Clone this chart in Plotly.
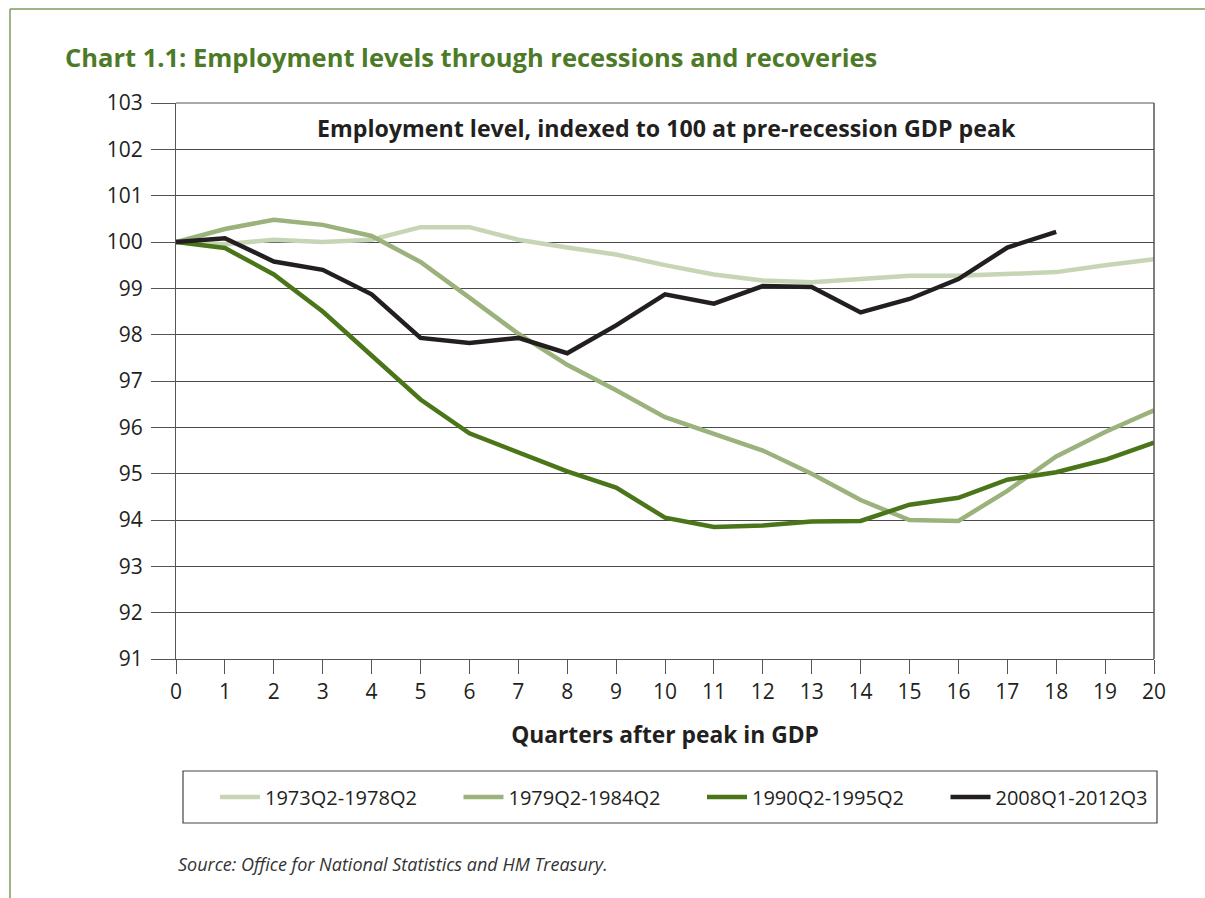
import plotly.graph_objects as go

quarters = list(range(0, 21))
x_tick_labels = [str(q) for q in quarters]
y_ticks = list(range(91, 104))

s1973_name = "1973Q2-1978Q2"
s1973 = [100.0, 99.95, 100.05, 100.0, 100.05, 100.32, 100.32, 100.05, 99.88, 99.73,
         99.5, 99.3, 99.17, 99.13, 99.2, 99.27, 99.27, 99.3, 99.35, 99.5, 99.63]

s1979_name = "1979Q2-1984Q2"
s1979 = [100.0, 100.28, 100.48, 100.37, 100.13, 99.57, 98.8, 98.02, 97.35, 96.8,
         96.22, 95.87, 95.5, 95.0, 94.43, 94.0, 93.98, 94.63, 95.37, 95.9, 96.37]

s1990_name = "1990Q2-1995Q2"
s1990 = [100.0, 99.87, 99.3, 98.5, 97.55, 96.6, 95.87, 95.45, 95.05, 94.7,
         94.05, 93.85, 93.88, 93.97, 93.98, 94.33, 94.48, 94.87, 95.03, 95.3, 95.67]

s2008_name = "2008Q1-2012Q3"
s2008 = [100.0, 100.08, 99.58, 99.4, 98.87, 97.93, 97.82, 97.93, 97.6, 98.2,
         98.87, 98.67, 99.05, 99.03, 98.48, 98.77, 99.2, 99.88, 100.22]

colors = ["#c6d5b6", "#9bb27c", "#4b7519", "#231f20"]

W, H = 1205, 898
L, R, T, B = 176, 1154, 103, 659

fig = go.Figure()
for name, vals, c in [(s1973_name, s1973, colors[0]), (s1979_name, s1979, colors[1]),
                      (s1990_name, s1990, colors[2]), (s2008_name, s2008, colors[3])]:
    fig.add_trace(go.Scatter(x=quarters[:len(vals)], y=vals, mode="lines", name=name,
                             line=dict(color=c, width=4.5), hoverinfo="skip"))

font_family = "Open Sans, Noto Sans, DejaVu Sans, sans-serif"

def px_x(px):
    return (px - L) / (R - L)

def px_y(py):
    return (B - py) / (B - T)

fig.update_layout(
    width=W, height=H,
    margin=dict(l=L, r=W - R, t=T, b=H - B),
    paper_bgcolor="white", plot_bgcolor="white",
    font=dict(family=font_family, color="#231f20", size=21),
    showlegend=True,
    legend=dict(orientation="h", x=px_x(215), xanchor="left", y=px_y(797), yanchor="middle",
                font=dict(size=20, color="#231f20"), bgcolor="rgba(0,0,0,0)",
                itemwidth=40, tracegroupgap=0, entrywidth=188.5, entrywidthmode="pixels"),
    xaxis=dict(range=[0, 20], tickmode="array", tickvals=quarters, ticktext=x_tick_labels,
               showgrid=False, zeroline=False, showline=True, linecolor="#555", linewidth=1.2,
               ticks="outside", ticklen=14, tickcolor="#555", tickwidth=1.2,
               tickfont=dict(size=21), mirror=False,
               title=dict(text="<b>Quarters after peak in GDP</b>", font=dict(size=22.8), standoff=22)),
    yaxis=dict(range=[91, 103], tickmode="array", tickvals=y_ticks,
               showgrid=True, gridcolor="#4a4a4a", gridwidth=1,
               zeroline=False, showline=True, linecolor="#555", linewidth=1.2,
               ticks="outside", ticklen=24, tickcolor="#555", tickwidth=1.2,
               tickfont=dict(size=21), ticklabelstandoff=4),
)

shapes = [
    dict(type="line", xref="paper", yref="paper", x0=0, x1=1, y0=1, y1=1,
         line=dict(color="#555", width=1.2)),
    dict(type="line", xref="paper", yref="paper", x0=1, x1=1, y0=0, y1=1,
         line=dict(color="#555", width=1.5)),
    dict(type="line", xref="paper", yref="paper",
         x0=px_x(10), x1=px_x(W), y0=px_y(9), y1=px_y(9),
         line=dict(color="#7d9c5c", width=1.5)),
    dict(type="line", xref="paper", yref="paper",
         x0=px_x(10), x1=px_x(10), y0=px_y(9), y1=px_y(H),
         line=dict(color="#7d9c5c", width=1.5)),
    dict(type="rect", xref="paper", yref="paper",
         x0=px_x(183), x1=px_x(1157), y0=px_y(823), y1=px_y(771),
         line=dict(color="#444", width=1.2), fillcolor="rgba(0,0,0,0)"),
]
fig.update_layout(shapes=shapes)

fig.add_annotation(text="<b>Chart 1.1: Employment levels through recessions and recoveries</b>",
                   xref="paper", yref="paper", x=px_x(63), y=px_y(57),
                   xanchor="left", yanchor="middle", showarrow=False,
                   font=dict(size=25.5, color="#4d7a27", family=font_family))
fig.add_annotation(text="<b>Employment level, indexed to 100 at pre-recession GDP peak</b>",
                   xref="paper", yref="paper", x=px_x(666), y=px_y(128),
                   xanchor="center", yanchor="middle", showarrow=False,
                   font=dict(size=23.2, color="#231f20", family=font_family))
fig.add_annotation(text="<i>Source: Office for National Statistics and HM Treasury.</i>",
                   xref="paper", yref="paper", x=px_x(176), y=px_y(864),
                   xanchor="left", yanchor="middle", showarrow=False,
                   font=dict(size=18, color="#333", family=font_family))

fig.write_html("out.html", config={"displayModeBar": False},
               post_script="document.body.style.margin='0';document.body.style.padding='0';")
